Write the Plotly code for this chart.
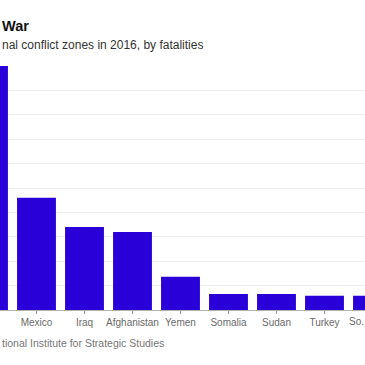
import plotly.graph_objects as go

countries = ["Syria", "Mexico", "Iraq", "Afghanistan", "Yemen", "Somalia", "Sudan", "Turkey", "So. Sudan"]
fatalities = [50000, 23000, 17000, 16000, 6800, 3300, 3300, 2900, 2900]

title_text = "<b>War</b>"
subtitle_text = "nal conflict zones in 2016, by fatalities"
source_text = "tional Institute for Strategic Studies"

bar_color = "#2a00d8"
font_family = "Liberation Sans, Arial, sans-serif"

x_range = [0.2396, 7.844]

fig = go.Figure(
    go.Bar(
        x=list(range(len(countries))),
        y=fatalities,
        marker=dict(color=bar_color, line=dict(width=0)),
        width=0.81,
    )
)

fig.update_layout(
    width=365,
    height=365,
    margin=dict(l=0, r=0, t=66, b=55, pad=0, autoexpand=False),
    paper_bgcolor="white",
    plot_bgcolor="white",
    showlegend=False,
    font=dict(family=font_family),
)

fig.update_xaxes(
    range=x_range,
    tickmode="array",
    tickvals=list(range(len(countries))),
    ticktext=countries,
    ticks="outside",
    ticklen=3,
    tickcolor="#999999",
    tickfont=dict(size=10, color="#6a6a6a"),
    showline=True,
    linecolor="#b0b0b0",
    linewidth=1,
    showgrid=False,
    zeroline=False,
    automargin=False,
)
fig.update_yaxes(
    range=[0, 50000],
    dtick=5000,
    showticklabels=False,
    showgrid=True,
    gridcolor="#ececec",
    gridwidth=1,
    zeroline=False,
    automargin=False,
)

# last category label, clipped by the right edge (tick outside the visible range)
last_idx = len(countries) - 1
last_paper_x = (last_idx - x_range[0]) / (x_range[1] - x_range[0])

annotations = [
    dict(text=title_text, xref="paper", yref="paper", x=0, y=1.165, xanchor="left", yanchor="middle",
         showarrow=False, font=dict(size=14.5, color="#111111")),
    dict(text=subtitle_text, xref="paper", yref="paper", x=0, y=1.088, xanchor="left", yanchor="middle",
         showarrow=False, font=dict(size=12, color="#333333")),
    dict(text=source_text, xref="paper", yref="paper", x=0, y=-0.135, xanchor="left", yanchor="middle",
         showarrow=False, font=dict(size=10.5, color="#777777")),
    dict(text=countries[last_idx], xref="paper", yref="paper", x=last_paper_x, y=0, xanchor="center",
         yanchor="top", yshift=-4, showarrow=False, font=dict(size=10, color="#6a6a6a")),
]
fig.update_layout(annotations=annotations)

fig.write_html(
    "out.html",
    config={"displayModeBar": False},
    post_script="document.body.style.margin='0';document.body.style.overflow='hidden';",
)
